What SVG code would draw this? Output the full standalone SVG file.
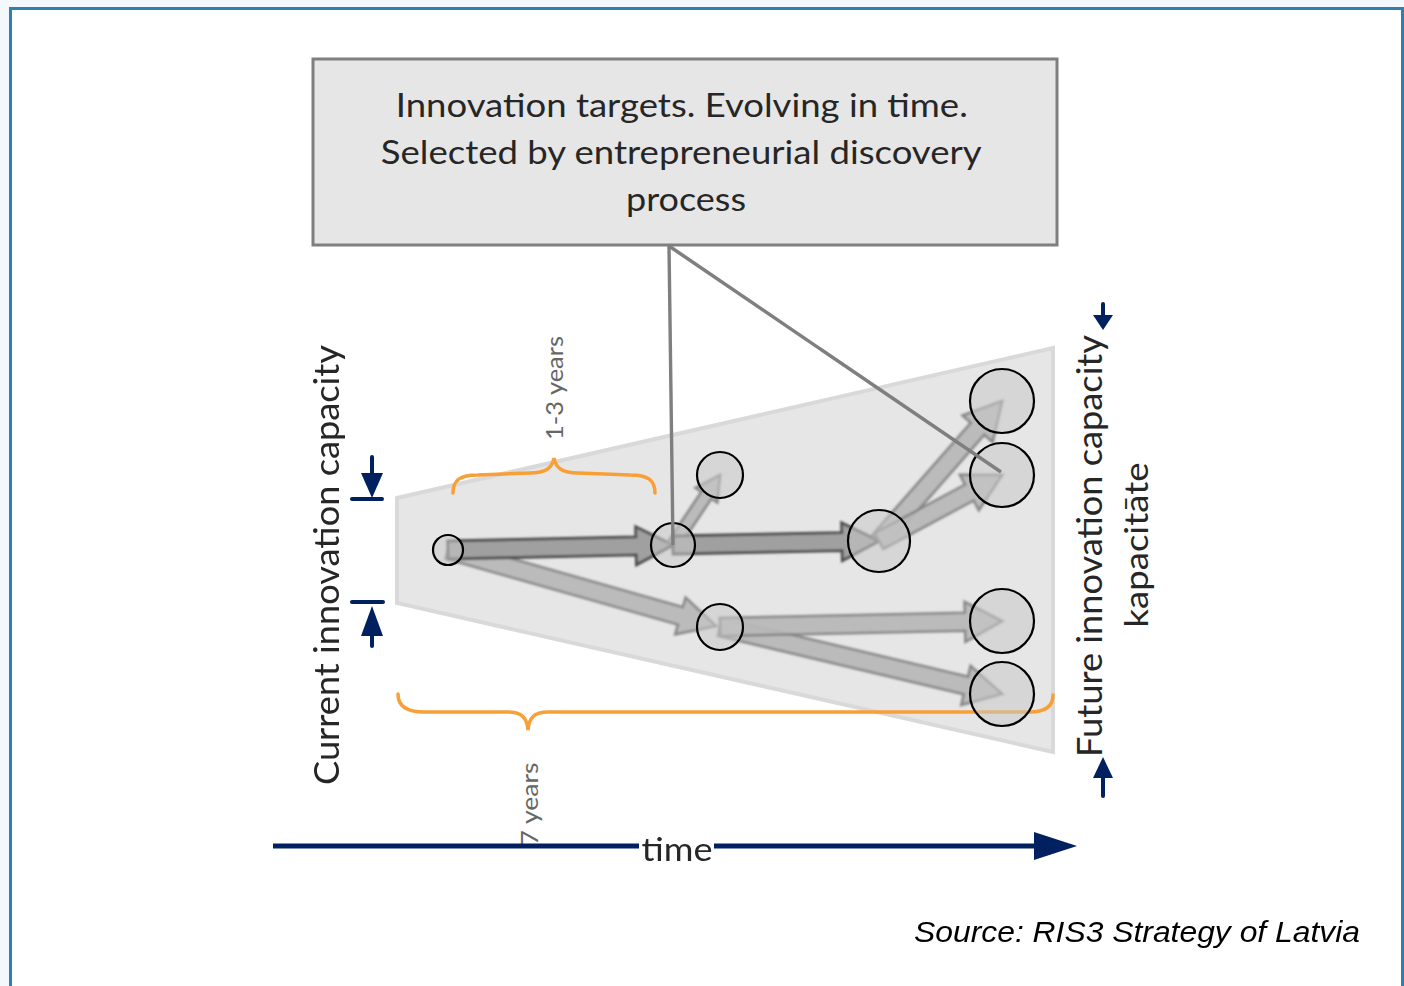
<svg xmlns="http://www.w3.org/2000/svg" width="1404" height="986" viewBox="0 0 1404 986">
  <defs>
    <style>
      .frame { fill: #ffffff; stroke: #2f80b1; stroke-width: 3; }
      .label { font-family: Lato, "Open Sans", "Liberation Sans", sans-serif; fill: #262626; }
      .dim { font-family: Lato, "Open Sans", "Liberation Sans", sans-serif; fill: #666666; font-size: 24px; }
      .brace { fill: none; stroke: #f8a035; stroke-width: 3.5; stroke-linecap: round; }
      .node { fill: #c8c8c8; fill-opacity: 0.55; stroke: #000000; stroke-width: 2.2; }
      .dark { fill: #a0a0a0; stroke: #4d4d4d; stroke-width: 2.8; stroke-linejoin: miter; }
      .light { fill: #b8b8b8; stroke: #808080; stroke-width: 2.6; stroke-linejoin: miter; opacity: 0.92; }
      .navy { fill: #002060; }
      .navyline { stroke: #002060; stroke-width: 4; stroke-linecap: round; fill: none; }
      .pointer { stroke: #7f7f7f; stroke-width: 3.4; fill: none; }
    </style>
    <filter id="soft" x="-10%" y="-30%" width="120%" height="160%">
      <feGaussianBlur stdDeviation="1.3"/>
    </filter>
  </defs>

  <!-- page background and frame -->
  <rect x="0" y="0" width="1404" height="986" fill="#f3f8fd"/>
  <rect class="frame" x="10.5" y="8.5" width="1392" height="1000"/>

  <!-- capacity funnel -->
  <g id="funnel">
    <polygon points="397,498 1053,348 1053,752 397,603" fill="#e6e6e6" stroke="#d9d9d9" stroke-width="4"/>
  </g>

  <!-- duration braces -->
  <g id="brace-short">
    <path class="brace" d="M453,493 C453,480 460,475 478,475 L530,473 C546,473 552,468 554,458 C556,468 562,473 578,473 L630,475 C648,475 655,480 655,493"/>
    <text class="dim" transform="translate(563,388) rotate(-90)" text-anchor="middle" textLength="104" lengthAdjust="spacingAndGlyphs">1-3 years</text>
  </g>
  <g id="brace-long">
    <path class="brace" d="M398,694 C398,706 406,712 424,712 L508,712 C522,712 527,718 528,730 C529,718 534,712 548,712 L1030,712 C1046,712 1053,706 1053,695"/>
    <text class="dim" transform="translate(538,804) rotate(-90)" text-anchor="middle" textLength="83" lengthAdjust="spacingAndGlyphs">7 years</text>
  </g>

  <!-- block arrows between innovation targets -->
  <g id="connectors" filter="url(#soft)">
    <path class="light" transform="translate(448,550) rotate(15.83)" d="M0,-9 L241.6,-9 L241.6,-19 L278.6,0 L241.6,19 L241.6,9 L0,9 Z"/>
    <path class="dark" transform="translate(448,550) rotate(-1.27)" d="M0,-9 L188.1,-9 L188.1,-19 L225.1,0 L188.1,19 L188.1,9 L0,9 Z"/>
    <path class="light" transform="translate(673,545) rotate(-56.13)" d="M0,-6 L60,-6 L60,-13 L84.3,0 L60,13 L60,6 L0,6 Z"/>
    <path class="dark" transform="translate(673,545) rotate(-1.11)" d="M0,-9 L169,-9 L169,-19 L206,0 L169,19 L169,9 L0,9 Z"/>
    <path class="light" transform="translate(879,541) rotate(-48.70)" d="M0,-9 L149.4,-9 L149.4,-20 L186.4,0 L149.4,20 L149.4,9 L0,9 Z"/>
    <path class="light" transform="translate(879,541) rotate(-28.22)" d="M0,-9 L102.6,-9 L102.6,-20 L139.6,0 L102.6,20 L102.6,9 L0,9 Z"/>
    <path class="light" transform="translate(720,627) rotate(13.36)" d="M0,-9 L252.8,-9 L252.8,-20 L289.8,0 L252.8,20 L252.8,9 L0,9 Z"/>
    <path class="light" transform="translate(720,627) rotate(-1.22)" d="M0,-9 L245.1,-9 L245.1,-20 L282.1,0 L245.1,20 L245.1,9 L0,9 Z"/>
  </g>

  <!-- innovation targets -->
  <g id="node-start"><circle class="node" cx="448" cy="550" r="15"/></g>
  <g id="node-a"><circle class="node" cx="673" cy="545" r="22"/></g>
  <g id="node-a1"><circle class="node" cx="720" cy="475" r="23"/></g>
  <g id="node-b"><circle class="node" cx="879" cy="541" r="31"/></g>
  <g id="node-b1"><circle class="node" cx="1002" cy="401" r="32"/></g>
  <g id="node-b2"><circle class="node" cx="1002" cy="475" r="32"/></g>
  <g id="node-c"><circle class="node" cx="720" cy="627" r="23"/></g>
  <g id="node-c1"><circle class="node" cx="1002" cy="621" r="32"/></g>
  <g id="node-c2"><circle class="node" cx="1002" cy="694" r="32"/></g>

  <!-- callout -->
  <g id="callout">
    <rect x="313" y="59" width="744" height="186" fill="#e6e6e6" stroke="#7f7f7f" stroke-width="3"/>
    <text class="label" font-size="33" text-anchor="middle">
      <tspan x="686" y="117" textLength="572" lengthAdjust="spacingAndGlyphs">Innovation targets. Evolving in time.</tspan>
      <tspan x="685" y="164" textLength="600" lengthAdjust="spacingAndGlyphs">Selected by entrepreneurial discovery</tspan>
      <tspan x="686" y="211" textLength="120" lengthAdjust="spacingAndGlyphs">process</tspan>
    </text>
    <line class="pointer" x1="669" y1="246" x2="673" y2="545"/>
    <line class="pointer" x1="669" y1="246" x2="1001" y2="472"/>
  </g>

  <!-- current capacity marker -->
  <g id="current-capacity">
    <text class="label" font-size="34" transform="translate(339,565) rotate(-90)" text-anchor="middle" textLength="440" lengthAdjust="spacingAndGlyphs">Current innovation capacity</text>
    <line class="navyline" x1="372" y1="457" x2="372" y2="476"/>
    <polygon class="navy" points="361,473 383,473 372,498"/>
    <line class="navyline" x1="352" y1="499" x2="382" y2="499"/>
    <line class="navyline" x1="352" y1="602" x2="383" y2="602"/>
    <polygon class="navy" points="372,606 361,636 383,636"/>
    <line class="navyline" x1="372" y1="632" x2="372" y2="646"/>
  </g>

  <!-- future capacity marker -->
  <g id="future-capacity">
    <text class="label" font-size="34" transform="translate(1102,546) rotate(-90)" text-anchor="middle" textLength="422" lengthAdjust="spacingAndGlyphs">Future innovation capacity</text>
    <text class="label" font-size="33" transform="translate(1148,545) rotate(-90)" text-anchor="middle" textLength="165" lengthAdjust="spacingAndGlyphs">kapacitāte</text>
    <line class="navyline" x1="1103" y1="304" x2="1103" y2="318"/>
    <polygon class="navy" points="1093,315 1113,315 1103,330"/>
    <polygon class="navy" points="1103,757 1093,778 1113,778"/>
    <line class="navyline" x1="1103" y1="775" x2="1103" y2="796"/>
  </g>

  <!-- time axis -->
  <g id="time-axis">
    <line x1="273" y1="846" x2="1040" y2="846" stroke="#002060" stroke-width="5"/>
    <polygon class="navy" points="1034,832 1077,846 1034,860"/>
    <rect x="639" y="840" width="75" height="12" fill="#ffffff"/>
    <text class="label" font-size="33" x="677" y="861" text-anchor="middle" fill="#000000" textLength="71" lengthAdjust="spacingAndGlyphs">time</text>
  </g>

  <text x="1360" y="942" text-anchor="end" font-family="'Liberation Sans', Arial, sans-serif" font-style="italic" font-size="29" fill="#000000" textLength="446" lengthAdjust="spacingAndGlyphs">Source: RIS3 Strategy of Latvia</text>
</svg>
